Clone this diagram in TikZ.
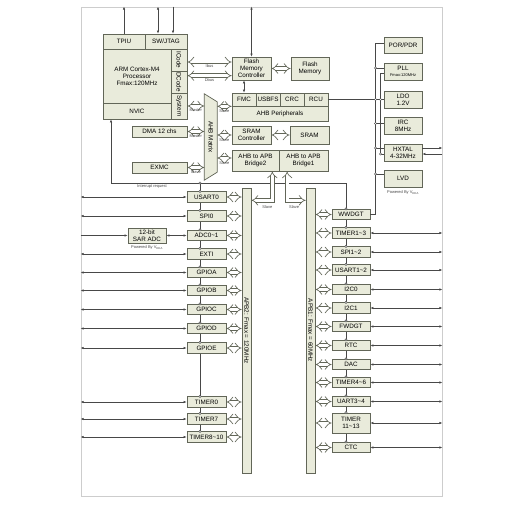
\documentclass[tikz,border=0pt]{standalone}
\usepackage{graphicx}
\usepackage{fontspec}
\setmainfont{Liberation Sans}
\usepackage{tikz}
\usetikzlibrary{arrows.meta,backgrounds,calc}
\pgfdeclarelayer{background}
\pgfsetlayers{background,main}

\definecolor{boxfill}{RGB}{233,235,219}
\definecolor{boxline}{RGB}{98,102,88}
\definecolor{wirec}{RGB}{72,72,72}
\definecolor{framec}{RGB}{205,205,205}

\begin{document}
\begin{tikzpicture}[x=1pt,y=-1pt,
    blk/.style={draw=boxline, fill=boxfill, line width=0.7pt, inner sep=0pt, align=center, font=\fontsize{6.3}{6.9}\selectfont},
    pbox/.style={blk, minimum width=39pt, minimum height=10.5pt},
    qbox/.style={blk, minimum width=38pt, minimum height=10.5pt},
    ckbox/.style={blk, minimum width=38pt, minimum height=17pt},
    note/.style={font=\fontsize{4}{4.5}\selectfont, inner sep=0.5pt, text=wirec},
    bus/.style={draw=boxline, line width=0.65pt, double=white, double distance=3pt, {Implies}-{Implies}},
    wire/.style={draw=wirec, line width=0.55pt},
    io/.style={wire, {Latex[length=3pt,width=2.4pt]}-{Latex[length=3pt,width=2.4pt]}},
    into/.style={wire, -{Latex[length=3pt,width=2.4pt]}},
    jdot/.style={circle, draw=wirec, fill=white, line width=0.4pt, inner sep=0pt, minimum size=2.3pt},
]

\useasboundingbox (0,0) rectangle (525,511);
\node[draw=framec, line width=0.8pt, minimum width=361pt, minimum height=489pt, inner sep=0pt] (frame) at (261.5,251.5) {};

\node[blk, minimum width=42pt, minimum height=15pt] (tpiu) at (124,41.5) {TPIU};
\node[blk, minimum width=42pt, minimum height=15pt] (swj) at (166,41.5) {SW/JTAG};
\node[blk, minimum width=68pt, minimum height=54pt] (core) at (137,76) {ARM Cortex-M4\\Processor\\Fmax:120MHz};
\node[blk, minimum width=68pt, minimum height=16pt] (nvic) at (137,111) {NVIC};
\node[blk, minimum width=16pt, minimum height=22pt] (icode) at (179,60) {\rotatebox{-90}{ICode}};
\node[blk, minimum width=16pt, minimum height=22pt] (dcode) at (179,82) {\rotatebox{-90}{DCode}};
\node[blk, minimum width=16pt, minimum height=26pt] (sysbus) at (179,106) {\rotatebox{-90}{System}};

\node[blk, minimum width=39pt, minimum height=23pt] (fmcc) at (251.5,68.5) {Flash\\Memory\\Controller};
\node[blk, minimum width=38pt, minimum height=23pt] (flash) at (310,68.5) {Flash\\Memory};
\node[blk, minimum width=24pt, minimum height=13pt] (fmc) at (244,99.5) {FMC};
\node[blk, minimum width=24pt, minimum height=13pt] (usbfs) at (268,99.5) {USBFS};
\node[blk, minimum width=24pt, minimum height=13pt] (crc) at (292,99.5) {CRC};
\node[blk, minimum width=24pt, minimum height=13pt] (rcu) at (316,99.5) {RCU};
\node[blk, minimum width=96pt, minimum height=15pt] (ahbp) at (280,113.5) {AHB Peripherals};
\node[blk, minimum width=39pt, minimum height=18pt] (sramc) at (251.5,135) {SRAM\\Controller};
\node[blk, minimum width=39pt, minimum height=18pt] (sram) at (309.5,135) {SRAM};
\node[blk, minimum width=47pt, minimum height=21pt] (bridge2) at (255.5,160.5) {AHB to APB\\Bridge2};
\node[blk, minimum width=49pt, minimum height=21pt] (bridge1) at (303.5,160.5) {AHB to APB\\Bridge1};
\node[blk, minimum width=55pt, minimum height=11pt] (dma) at (159.5,131.5) {DMA 12 chs};
\node[blk, minimum width=55pt, minimum height=11pt] (exmc) at (159.5,167.5) {EXMC};

\node[inner sep=0pt, minimum width=12.5pt, minimum height=86pt, font=\fontsize{6.3}{6.9}\selectfont] (ahbm) at (210.75,137) {\rotatebox{-90}{AHB Matrix}};
\begin{pgfonlayer}{background}
\fill[white] (0,0) rectangle (525,511);
\draw[draw=boxline, fill=boxfill, line width=0.7pt] (ahbm.north west) -- ($(ahbm.north east)+(0,8)$) -- ($(ahbm.south east)+(0,-8)$) -- (ahbm.south west) -- cycle;
\end{pgfonlayer}

\node[blk, minimum width=9pt, minimum height=285pt] (apb2) at (246.5,330.5) {\rotatebox{-90}{APB2: Fmax = 120MHz}};
\node[blk, minimum width=9pt, minimum height=285pt] (apb1) at (310.5,330.5) {\rotatebox{-90}{APB1: Fmax = 60MHz}};
\node[blk, minimum width=38pt, minimum height=15pt] (sarad) at (147,235.5) {12-bit\\SAR ADC};
\node[note, below=1.5pt] (pwr1) at (sarad.south) {Powered By V\textsubscript{DDA}};

\node[ckbox, minimum height=16pt] (por) at (403,45) {POR/PDR};
\node[ckbox] (pll) at (403,71.5) {PLL\\[-1pt]{\fontsize{4}{4.5}\selectfont Fmax:120MHz}};
\node[ckbox] (ldo) at (403,99.5) {LDO\\1.2V};
\node[ckbox] (irc) at (403,125.5) {IRC\\8MHz};
\node[ckbox] (hxtal) at (403,152.5) {HXTAL\\4-32MHz};
\node[ckbox] (lvd) at (403,178.5) {LVD};
\node[note, below=3pt] (pwr2) at (lvd.south) {Powered By V\textsubscript{DDA}};

\foreach \n/\t/\y in {usart0/USART0/197, spi0/SPI0/216, adc/ADC0{\textasciitilde}1/235.5, exti/EXTI/254, gpioa/GPIOA/272.5, gpiob/GPIOB/290.5, gpioc/GPIOC/309.5, gpiod/GPIOD/328.5, gpioe/GPIOE/348, timer0/TIMER0/402, timer7/TIMER7/419, timer8/TIMER8{\textasciitilde}10/437}{
    \node[pbox] (\n) at (206.5,\y) {\t};
    \draw[bus] (\n.east) -- (\n.east -| apb2.west);
}
\foreach \n in {usart0,spi0,exti,gpioa,gpiob,gpioc,gpiod,gpioe,timer0,timer7,timer8}
    \draw[io] (frame.west |- \n.west) -- (\n.west);
\draw[into] (frame.west |- sarad.west) -- (sarad.west);
\draw[io] (sarad.east) -- (adc.west);

\foreach \n/\t/\y/\h in {wwdgt/WWDGT/214.5/10.5, timer1/TIMER1{\textasciitilde}3/233/10.5, spi1/SPI1{\textasciitilde}2/252/10.5, usart1/USART1{\textasciitilde}2/270/10.5, i2c0/I2C0/289.5/10.5, i2c1/I2C1/308/10.5, fwdgt/FWDGT/326.5/10.5, rtc/RTC/345.5/10.5, dac/DAC/364.5/10.5, timer4/TIMER4{\textasciitilde}6/382.5/10.5, uart3/UART3{\textasciitilde}4/401.5/10.5, timer11/TIMER\\11{\textasciitilde}13/423/20, ctc/CTC/447.5/10.5}{
    \node[qbox, minimum height=\h pt] (\n) at (351,\y) {\t};
    \draw[bus] (\n.west -| apb1.east) -- (\n.west);
}
\foreach \n in {timer1,spi1,usart1,i2c0,i2c1,fwdgt,rtc,dac,timer4,uart3,timer11,ctc}
    \draw[io] (\n.east) -- (frame.east |- \n.east);

\coordinate (ch2) at (200,183);
\coordinate (ch1) at (346,183);
\coordinate (irq) at (111,183);
\begin{pgfonlayer}{background}
\draw[wire] (ch2) -- (ch2 |- timer8.north);
\draw[wire] (ch1) -- (ch1 |- ctc.north);
\end{pgfonlayer}
\draw[into] (ch1) -- (irq) -- (irq |- nvic.south);
\node[jdot] (j0) at (ch2) {};
\node[note, below=1.5pt] (irqlbl) at (152,183) {Interrupt request};
\foreach \n in {usart0,spi0,adc,exti,gpioa,gpiob,gpioc,gpiod,gpioe,timer0,timer7,timer8}
    \node[jdot] (j\n) at (ch2 |- \n.north) {};
\foreach \n in {wwdgt,timer1,spi1,usart1,i2c0,i2c1,fwdgt,rtc,dac,timer4,uart3,timer11,ctc}
    \node[jdot] (j\n) at (ch1 |- \n.north) {};

\coordinate (jt1) at ($(swj.north)+(-8,0)$);
\coordinate (jt2) at ($(swj.north)+(7,0)$);
\draw[into] (tpiu.north) -- (tpiu.north |- frame.north);
\draw[io] (jt1 |- frame.north) -- (jt1);
\draw[into] (jt2 |- frame.north) -- (jt2);
\draw[io] (fmcc.north |- frame.north) -- (fmcc.north);
\draw[io] (fmc.north) -- (fmc.north |- fmcc.south);

\coordinate (ib) at ($(icode.east)+(0,2)$);
\coordinate (db) at ($(dcode.north east)+(0,5)$);
\draw[bus] (ib) -- (ib -| fmcc.west) node[midway, below=2pt, note] (ibl) {Ibus};
\draw[bus] (db) -- (db -| fmcc.west) node[midway, below=2pt, note] (dbl) {Dbus};
\draw[bus] (fmcc.east) -- (flash.west);
\draw[bus] (sysbus.east) -- (sysbus.east -| ahbm.west) node[midway, below=2pt, note] (m1) {Master};
\draw[bus] (fmc.south west -| ahbm.east) -- (fmc.south west) node[midway, below=2.5pt, note] (s1) {Slave};
\draw[bus] (dma.east) -- (dma.east -| ahbm.west) node[midway, below=2.5pt, note] (m2) {Master};
\draw[bus] (sramc.west -| ahbm.east) -- (sramc.west) node[midway, below=2.5pt, note] (s2) {Slave};
\draw[bus] (sramc.east) -- (sram.west);
\draw[bus] (exmc.east) -- (exmc.east -| ahbm.west) node[midway, below=2.5pt, note] (s3) {Slave};
\draw[bus] ($(bridge2.west -| ahbm.east)+(0,-2.5)$) -- ($(bridge2.west)+(0,-2.5)$) node[midway, below=2.5pt, note] (s4) {Slave};

\coordinate (b2) at ($(bridge2.south east)+(-7,0)$);
\coordinate (b1) at ($(bridge1.south west)+(8.5,0)$);
\draw[bus] (b2) -- ++(0,29) coordinate (b2k) -- (b2k -| apb2.east);
\draw[bus] (b1) -- ++(0,29) coordinate (b1k) -- (b1k -| apb1.west);
\node[note, below=5pt] (s5) at ($(b2k)+(-5,0)$) {Slave};
\node[note, below=5pt] (s6) at ($(b1k)+(7,0)$) {Slave};

\coordinate (cka) at (375.5,43);
\coordinate (ckb) at (380.5,73);
\coordinate (ckc) at (380.5,154);
\draw[wire] (por.west |- cka) -- (cka) -- (cka |- wwdgt.east) -- (wwdgt.east);
\draw[wire] (pll.west |- ckb) -- (ckb) -- (ckc) -- (hxtal.west |- ckc);
\draw[wire] (rcu.east) -- (ldo.west);
\foreach \n/\d in {pll/-3.5, irc/-2, hxtal/-4.5, lvd/-4.5}
    \draw[wire] ($(\n.west)+(0,\d)$) coordinate (t\n) -- (t\n -| cka) node[jdot] (k\n) {};
\node[jdot] (kldo) at (cka |- ldo.west) {};
\node[jdot] (kldo2) at (ckb |- ldo.west) {};
\node[jdot] (khx2) at (ckc) {};
\coordinate (hx1) at ($(hxtal.east)+(0,-4.5)$);
\coordinate (hx2) at ($(hxtal.east)+(0,1.5)$);
\draw[into] (hx1) -- (hx1 -| frame.east);
\draw[into] (hx2 -| frame.east) -- (hx2);

\end{tikzpicture}
\end{document}
